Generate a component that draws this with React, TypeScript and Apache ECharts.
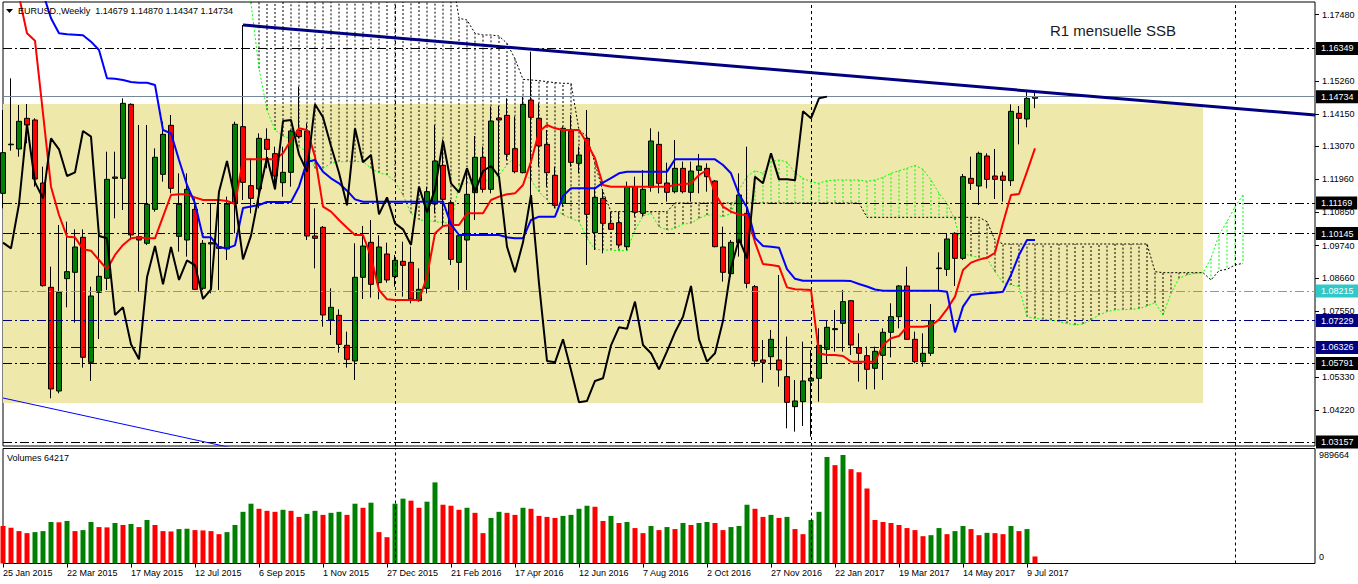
import React, { useEffect, useRef } from 'react';
import * as echarts from 'echarts';

const TICK_LABELS = ['25 Jan 2015', '22 Mar 2015', '17 May 2015', '12 Jul 2015', '6 Sep 2015', '1 Nov 2015', '27 Dec 2015', '21 Feb 2016', '17 Apr 2016', '12 Jun 2016', '7 Aug 2016', '2 Oct 2016', '27 Nov 2016', '22 Jan 2017', '19 Mar 2017', '14 May 2017', '9 Jul 2017'];
const N_SLOTS = 165;
const TICK_EVERY = 8;

const OPEN = [1.11492, 1.13120, 1.12979, 1.14007, 1.13951, 1.11839, 1.08342, 1.04867, 1.08633, 1.08845, 1.10018, 1.05828, 1.08174, 1.08644, 1.11995, 1.11995, 1.14476, 1.10040, 1.09817, 1.10956, 1.12129, 1.13772, 1.10051, 1.09928, 1.10956, 1.08309, 1.09795, 1.09705, 1.09627, 1.11157, 1.13728, 1.11750, 1.11638, 1.13303, 1.12822, 1.11850, 1.12196, 1.13604, 1.13582, 1.10062, 1.10353, 1.07247, 1.07403, 1.06398, 1.05873, 1.08677, 1.09850, 1.08498, 1.09459, 1.08700, 1.09213, 1.09180, 1.07895, 1.08309, 1.11135, 1.12431, 1.11180, 1.09180, 1.09928, 1.11515, 1.12700, 1.11627, 1.14018, 1.14107, 1.12990, 1.12185, 1.14621, 1.14007, 1.13135, 1.12096, 1.11157, 1.13582, 1.12498, 1.13336, 1.10174, 1.11325, 1.10487, 1.10509, 1.09705, 1.11716, 1.10822, 1.11694, 1.13135, 1.11839, 1.11548, 1.12330, 1.11526, 1.12263, 1.12330, 1.11906, 1.09694, 1.08800, 1.09839, 1.10822, 1.08365, 1.05906, 1.06018, 1.05906, 1.05348, 1.04342, 1.04509, 1.05203, 1.05292, 1.06264, 1.06923, 1.07135, 1.07895, 1.06320, 1.06051, 1.05627, 1.06063, 1.06834, 1.07358, 1.08387, 1.06599, 1.05851, 1.06130, 1.08968, 1.08945, 1.10152, 1.09314, 1.11995, 1.11738, 1.12744, 1.12073, 1.12073, 1.11917, 1.14174, 1.13984, 1.14679];
const HIGH = [1.14286, 1.15347, 1.14453, 1.14487, 1.14007, 1.12386, 1.09035, 1.10431, 1.10543, 1.10286, 1.10286, 1.08365, 1.10286, 1.12889, 1.12889, 1.14677, 1.14509, 1.13783, 1.13783, 1.13001, 1.13895, 1.14118, 1.12163, 1.12163, 1.11325, 1.09928, 1.11157, 1.11213, 1.11381, 1.13895, 1.17135, 1.12666, 1.13504, 1.13672, 1.13057, 1.13057, 1.13616, 1.15068, 1.13839, 1.10990, 1.10398, 1.08309, 1.07604, 1.06856, 1.09817, 1.10398, 1.10599, 1.10085, 1.09839, 1.09426, 1.09873, 1.09705, 1.08979, 1.11716, 1.13783, 1.13303, 1.11269, 1.10152, 1.12330, 1.13414, 1.13057, 1.14398, 1.14420, 1.14677, 1.14063, 1.14733, 1.16241, 1.14509, 1.13616, 1.12386, 1.13728, 1.14118, 1.13057, 1.14286, 1.11716, 1.11604, 1.10878, 1.10878, 1.11884, 1.12051, 1.12274, 1.13672, 1.13560, 1.12521, 1.13280, 1.12554, 1.12554, 1.12811, 1.12498, 1.11940, 1.10375, 1.09928, 1.12163, 1.13057, 1.08420, 1.06577, 1.06912, 1.08755, 1.06689, 1.05236, 1.06521, 1.06241, 1.06968, 1.07225, 1.07582, 1.08253, 1.07917, 1.06800, 1.06353, 1.06353, 1.06968, 1.07806, 1.08420, 1.09035, 1.06856, 1.06800, 1.07783, 1.09515, 1.10152, 1.10186, 1.12141, 1.12722, 1.12889, 1.12833, 1.12979, 1.12219, 1.14476, 1.14420, 1.14900, 1.14870];
const LOW = [1.10990, 1.12923, 1.12722, 1.13169, 1.11716, 1.08365, 1.04622, 1.04789, 1.07671, 1.07157, 1.05650, 1.05203, 1.06610, 1.08253, 1.10655, 1.10934, 1.09928, 1.08197, 1.09761, 1.10878, 1.11884, 1.11492, 1.09537, 1.09370, 1.08253, 1.08253, 1.08141, 1.08253, 1.09258, 1.10152, 1.11269, 1.10822, 1.10990, 1.12330, 1.11627, 1.11381, 1.11716, 1.13336, 1.09928, 1.08979, 1.07023, 1.06744, 1.06152, 1.05650, 1.05236, 1.07951, 1.07995, 1.07940, 1.08498, 1.08365, 1.08029, 1.07806, 1.07862, 1.08141, 1.10822, 1.10375, 1.09091, 1.08253, 1.08253, 1.10599, 1.11515, 1.11492, 1.12073, 1.12610, 1.12163, 1.12163, 1.11157, 1.12386, 1.11716, 1.10990, 1.11046, 1.12386, 1.12163, 1.09091, 1.09593, 1.09481, 1.10264, 1.09649, 1.09593, 1.10711, 1.10711, 1.11548, 1.11492, 1.11213, 1.11492, 1.11492, 1.11213, 1.11492, 1.11548, 1.09683, 1.08532, 1.08700, 1.09370, 1.08309, 1.05683, 1.05147, 1.05571, 1.05013, 1.03616, 1.03504, 1.03694, 1.03336, 1.04509, 1.05794, 1.06186, 1.06186, 1.06074, 1.05180, 1.04923, 1.04923, 1.05236, 1.05996, 1.06968, 1.06577, 1.05794, 1.05683, 1.06040, 1.08197, 1.08722, 1.08387, 1.09258, 1.11604, 1.11101, 1.11660, 1.11302, 1.11213, 1.11738, 1.13135, 1.13705, 1.14347];
const CLOSE = [1.12856, 1.13140, 1.13906, 1.13783, 1.11973, 1.08398, 1.04935, 1.08174, 1.08867, 1.09694, 1.05996, 1.08051, 1.08711, 1.11961, 1.12040, 1.14509, 1.10096, 1.09928, 1.11124, 1.12700, 1.13470, 1.11660, 1.11124, 1.11627, 1.08275, 1.09817, 1.09839, 1.09649, 1.11135, 1.13806, 1.11861, 1.11325, 1.13336, 1.12968, 1.12073, 1.12196, 1.13582, 1.13392, 1.10062, 1.09984, 1.07414, 1.07671, 1.06431, 1.05928, 1.08677, 1.09727, 1.08442, 1.09694, 1.08588, 1.09247, 1.09079, 1.07951, 1.08275, 1.11548, 1.12577, 1.11291, 1.09280, 1.10074, 1.11459, 1.12700, 1.11627, 1.13917, 1.13951, 1.12800, 1.12219, 1.14476, 1.14040, 1.13080, 1.12185, 1.11090, 1.13672, 1.12532, 1.12778, 1.10789, 1.11358, 1.10487, 1.10286, 1.09761, 1.11716, 1.10856, 1.11627, 1.13247, 1.11828, 1.11526, 1.12330, 1.11548, 1.12241, 1.12409, 1.12051, 1.09705, 1.08845, 1.09850, 1.11437, 1.08476, 1.05873, 1.05828, 1.06599, 1.05571, 1.04487, 1.04532, 1.05203, 1.05292, 1.06398, 1.07001, 1.06957, 1.07862, 1.06409, 1.06130, 1.05593, 1.06197, 1.06834, 1.07358, 1.08387, 1.06599, 1.05851, 1.06130, 1.07225, 1.08990, 1.09962, 1.09314, 1.12051, 1.11828, 1.12833, 1.11961, 1.11961, 1.11928, 1.14241, 1.14007, 1.14677, 1.14734];

const VOLUME = [341800, 326300, 295500, 276900, 286200, 295500, 378800, 375700, 388000, 295500, 304700, 378800, 332500, 329400, 369500, 351000, 360300, 332500, 397300, 351000, 295500, 292400, 314000, 317100, 304700, 301600, 295500, 267700, 286200, 351000, 471300, 545400, 499100, 480600, 471300, 489900, 480600, 425000, 452800, 480600, 443600, 462100, 471300, 443600, 545400, 508400, 554600, 286200, 239900, 545400, 591600, 573200, 508400, 563900, 739800, 536100, 526900, 489900, 508400, 462100, 276900, 415800, 471300, 462100, 443600, 508400, 499100, 434300, 425000, 415800, 434300, 443600, 499100, 526900, 517600, 388000, 434300, 369500, 378800, 323200, 276900, 341800, 304700, 332500, 314000, 369500, 351000, 369500, 378800, 369500, 304700, 332500, 341800, 536100, 499100, 425000, 443600, 415800, 425000, 314000, 267700, 397300, 471300, 971200, 897100, 989664, 860100, 832400, 684200, 397300, 378800, 369500, 351000, 323200, 304700, 249200, 258400, 323200, 267700, 295500, 341800, 314000, 258400, 280000, 276900, 267700, 341800, 295500, 314000, 64217];

const TENKAN = [1.1880, 1.1850, 1.1810, 1.16856, 1.16610, 1.14174, 1.11716, 1.10766, 1.10040, 1.10018, 1.09616, 1.09571, 1.09258, 1.08945, 1.09426, 1.09761, 1.09984, 1.10018, 1.09984, 1.09984, 1.10711, 1.11437, 1.11459, 1.11459, 1.11358, 1.11269, 1.11269, 1.11269, 1.11236, 1.11135, 1.12632, 1.12632, 1.12632, 1.12632, 1.12632, 1.12834, 1.13280, 1.13672, 1.13616, 1.12722, 1.11046, 1.10878, 1.10599, 1.10342, 1.10096, 1.10096, 1.09370, 1.08253, 1.07940, 1.07917, 1.07917, 1.07917, 1.07917, 1.08700, 1.10152, 1.10398, 1.10431, 1.10431, 1.10822, 1.10822, 1.10822, 1.11269, 1.11381, 1.11459, 1.11492, 1.11772, 1.12554, 1.13560, 1.13783, 1.13672, 1.13616, 1.13616, 1.13616, 1.13169, 1.12666, 1.11772, 1.11716, 1.11716, 1.11716, 1.11716, 1.11716, 1.11716, 1.11716, 1.11716, 1.11772, 1.11800, 1.11828, 1.12107, 1.12275, 1.11492, 1.11046, 1.10878, 1.10783, 1.10766, 1.09850, 1.09120, 1.09090, 1.09046, 1.08340, 1.08280, 1.08265, 1.08253, 1.06130, 1.06074, 1.06074, 1.06040, 1.05851, 1.05851, 1.05851, 1.05851, 1.06409, 1.06633, 1.06711, 1.07023, 1.07023, 1.07023, 1.07060, 1.07260, 1.07610, 1.08029, 1.08923, 1.09170, 1.09270, 1.09330, 1.09500, 1.10500, 1.11436, 1.11470, 1.12220, 1.13001];
const KIJUN = [1.1900, 1.1900, 1.1890, 1.1870, 1.1850, 1.1820, 1.17359, 1.16856, 1.16822, 1.16811, 1.16789, 1.16576, 1.16297, 1.15347, 1.15336, 1.15291, 1.15224, 1.15202, 1.15202, 1.15124, 1.13616, 1.13504, 1.12610, 1.11772, 1.11157, 1.10018, 1.10018, 1.09683, 1.09649, 1.09750, 1.11000, 1.11050, 1.11100, 1.11200, 1.11200, 1.11200, 1.11200, 1.11716, 1.12554, 1.12610, 1.12219, 1.11995, 1.11828, 1.11582, 1.11291, 1.11213, 1.11213, 1.11213, 1.11213, 1.11213, 1.11213, 1.11213, 1.11213, 1.11213, 1.11213, 1.11213, 1.10450, 1.10096, 1.10096, 1.10096, 1.10096, 1.10096, 1.10096, 1.10018, 1.09984, 1.09984, 1.10600, 1.10711, 1.10711, 1.10711, 1.11400, 1.11660, 1.11660, 1.11660, 1.11660, 1.11850, 1.12000, 1.12164, 1.12219, 1.12219, 1.12219, 1.12219, 1.12219, 1.12219, 1.12632, 1.12632, 1.12632, 1.12632, 1.12632, 1.12632, 1.12442, 1.12164, 1.11460, 1.11020, 1.10000, 1.09727, 1.09705, 1.09670, 1.08950, 1.08627, 1.08565, 1.08565, 1.08565, 1.08565, 1.08565, 1.08565, 1.08550, 1.08453, 1.08370, 1.08270, 1.08230, 1.08230, 1.08230, 1.08230, 1.08230, 1.08230, 1.08230, 1.08230, 1.08197, 1.06830, 1.07694, 1.08085, 1.08118, 1.08140, 1.08160, 1.08197, 1.08755, 1.09426, 1.09928, 1.09928];

const CHIKOU_SHIFT = 26;
const SENKOU_START = 30;
const SENKOU_A = [1.1800, 1.17861, 1.15683, 1.14286, 1.13616, 1.13414, 1.13336, 1.13057, 1.12889, 1.12331, 1.12331, 1.12498, 1.12554, 1.12554, 1.12554, 1.12554, 1.12331, 1.12185, 1.12107, 1.11884, 1.11436, 1.10822, 1.10599, 1.10576, 1.10543, 1.10509, 1.10487, 1.11772, 1.11828, 1.11850, 1.11884, 1.11995, 1.12107, 1.12442, 1.12722, 1.12219, 1.11940, 1.11548, 1.11269, 1.10990, 1.10766, 1.10655, 1.10543, 1.09984, 1.09616, 1.09593, 1.09593, 1.09571, 1.09571, 1.10264, 1.10733, 1.10822, 1.10375, 1.10264, 1.10320, 1.10465, 1.10487, 1.10655, 1.10766, 1.10766, 1.10711, 1.10822, 1.11604, 1.12051, 1.12252, 1.12163, 1.12554, 1.12610, 1.12543, 1.12185, 1.11995, 1.11883, 1.11828, 1.11917, 1.11939, 1.11939, 1.11939, 1.11939, 1.11895, 1.11939, 1.12029, 1.12163, 1.12252, 1.12330, 1.12431, 1.12297, 1.11939, 1.11492, 1.11157, 1.10599, 1.09481, 1.09392, 1.09347, 1.09314, 1.08867, 1.08498, 1.08420, 1.08364, 1.07358, 1.07302, 1.07269, 1.07247, 1.07191, 1.07135, 1.07079, 1.07113, 1.07247, 1.07414, 1.07526, 1.07582, 1.07593, 1.07604, 1.07626, 1.07716, 1.07828, 1.07414, 1.08140, 1.08643, 1.08755, 1.08811, 1.08833, 1.09314, 1.10096, 1.10543, 1.11045, 1.11436];
const SENKOU_B = [1.1900, 1.1900, 1.1900, 1.1900, 1.1900, 1.1900, 1.1900, 1.1900, 1.1900, 1.1900, 1.1900, 1.1900, 1.1900, 1.1900, 1.1900, 1.1900, 1.1900, 1.1900, 1.1900, 1.1900, 1.1900, 1.1900, 1.1900, 1.1900, 1.1900, 1.1900, 1.1900, 1.17359, 1.17303, 1.16856, 1.16800, 1.16800, 1.16766, 1.16521, 1.16000, 1.15314, 1.15292, 1.15270, 1.15236, 1.15202, 1.15180, 1.15180, 1.13616, 1.13392, 1.12500, 1.11550, 1.10880, 1.10880, 1.10880, 1.10880, 1.10880, 1.10880, 1.10880, 1.10880, 1.11169, 1.11169, 1.11169, 1.11169, 1.11169, 1.11169, 1.11169, 1.11169, 1.11169, 1.11169, 1.11169, 1.11169, 1.11169, 1.11169, 1.11169, 1.11169, 1.11169, 1.11169, 1.11169, 1.11169, 1.11169, 1.11169, 1.11169, 1.11169, 1.10688, 1.10688, 1.10688, 1.10688, 1.10688, 1.10688, 1.10688, 1.10688, 1.10688, 1.10688, 1.10688, 1.10688, 1.10688, 1.10688, 1.10688, 1.10543, 1.09928, 1.09794, 1.09794, 1.09794, 1.09794, 1.09794, 1.09794, 1.09794, 1.09794, 1.09794, 1.09794, 1.09794, 1.09794, 1.09794, 1.09794, 1.09794, 1.09794, 1.09794, 1.09794, 1.09794, 1.08867, 1.08833, 1.08833, 1.08833, 1.08833, 1.08833, 1.08833, 1.08587, 1.08900, 1.08945, 1.09091, 1.09146];

const PRICE_TICKS = [1.1748, 1.1526, 1.1415, 1.1307, 1.1196, 1.1085, 1.0974, 1.0866, 1.0755, 1.0533, 1.0422];
const PRICE_MIN = 1.03023;
const PRICE_MAX = 1.17906;
const VOLUME_TOP_LABEL = 989664;
const VOLUME_AXIS_MAX = 1048950;

const LEVELS_BLACK = [1.16349, 1.11169, 1.10145, 1.05791, 1.03157];
const LEVELS_CYAN = [1.08215];
const LEVELS_NAVY = [1.07229, 1.06326];
const BID = 1.14734;

const TRENDLINE = [[30, 1.17135], [164, 1.14118]];
const SUPPORT_LINE = [[0, 1.04632], [30, 1.02880]];
const BOX_FROM = 0;
const BOX_TO = 150;
const BOX_TOP = 1.14487;
const BOX_BOTTOM = 1.04464;
const YEAR_SEPARATORS = [49, 101, 154];

const SYMBOL = 'EURUSD.,Weekly';
const NOTE = 'R1 mensuelle SSB';

const FONT = '"Liberation Sans", Arial, sans-serif';
const GREEN = '#008000';
const RED = '#FF0000';
const LIME = '#00FF00';
const DASHDOT = [9, 3, 2, 3];

function buildOption() {
  const cats = Array.from({ length: N_SLOTS }, (_, i) => String(i));
  const isTick = (i: number) => i % TICK_EVERY === 0 && i / TICK_EVERY < TICK_LABELS.length;
  const fmt = (v: number) => v.toFixed(5);

  const tagLabel = (v: number, bg: string) => ({
    show: true, position: 'end', distance: 1, formatter: () => fmt(v),
    backgroundColor: bg, color: '#fff', padding: [1, 5, 0, 5], lineHeight: 12,
    fontSize: 9, fontFamily: FONT,
  });

  const levelLine = (v: number, lineColor: string, bg: string) => ({
    yAxis: v,
    lineStyle: { color: lineColor, type: DASHDOT, width: 1 },
    label: tagLabel(v, bg),
  });

  const markLineData = [
    ...LEVELS_BLACK.map((v) => levelLine(v, '#000', '#000')),
    ...LEVELS_CYAN.map((v) => levelLine(v, '#30C0C0', '#30C8C8')),
    ...LEVELS_NAVY.map((v) => levelLine(v, '#000080', '#000080')),
    { yAxis: BID, lineStyle: { color: '#778899', type: 'solid', width: 1 }, label: tagLabel(BID, '#000') },
  ];

  const sepLines = YEAR_SEPARATORS.map((i) => ({ xAxis: cats[i] }));

  const candleData = OPEN.map((o, i) => [o, CLOSE[i], LOW[i], HIGH[i]]);
  const volumeData = VOLUME.map((v, i) => ({
    value: v,
    itemStyle: { color: i > 0 && v > VOLUME[i - 1] ? GREEN : RED },
  }));
  const chikou = CLOSE.slice(CHIKOU_SHIFT);
  const spanA = SENKOU_A.map((v, k) => [SENKOU_START + k, v]);
  const spanB = SENKOU_B.map((v, k) => [SENKOU_START + k, v]);
  const cloud = SENKOU_A.map((v, k) => [SENKOU_START + k, v, SENKOU_B[k]]);

  const last = OPEN.length - 1;
  const header = `${SYMBOL}  ${fmt(OPEN[last])} ${fmt(HIGH[last])} ${fmt(LOW[last])} ${fmt(CLOSE[last])}`;

  return {
    animation: false,
    backgroundColor: '#fff',
    textStyle: { fontFamily: FONT },
    grid: [
      { left: 3, right: 43, top: 2, height: 444, show: true, borderColor: '#000', borderWidth: 1, backgroundColor: 'transparent' },
      { left: 3, right: 43, top: 448.5, height: 115, show: true, borderColor: '#000', borderWidth: 1, backgroundColor: 'transparent' },
    ],
    xAxis: [
      {
        type: 'category', gridIndex: 0, data: cats, boundaryGap: false,
        axisLine: { show: false }, axisTick: { show: false }, axisLabel: { show: false }, splitLine: { show: false },
      },
      {
        type: 'category', gridIndex: 1, data: cats, boundaryGap: false,
        axisLine: { show: false },
        axisTick: { show: true, interval: (i: number) => isTick(i), length: 4, lineStyle: { color: '#000' } },
        axisLabel: {
          interval: (i: number) => isTick(i),
          formatter: (v: string) => TICK_LABELS[Number(v) / TICK_EVERY] || '',
          align: 'left', margin: 5, fontSize: 9, color: '#000', fontFamily: FONT,
        },
        splitLine: { show: false },
      },
    ],
    yAxis: [
      {
        type: 'value', gridIndex: 0, position: 'right', min: PRICE_MIN, max: PRICE_MAX,
        splitLine: { show: false }, axisLine: { show: false },
        axisTick: { show: true, customValues: PRICE_TICKS, length: 4, lineStyle: { color: '#000' } },
        axisLabel: { customValues: PRICE_TICKS, formatter: (v: number) => fmt(v), margin: 7, fontSize: 9, color: '#000', fontFamily: FONT },
      },
      {
        type: 'value', gridIndex: 1, position: 'right', min: 0, max: VOLUME_AXIS_MAX,
        splitLine: { show: false }, axisLine: { show: false }, axisTick: { show: false },
        axisLabel: {
          customValues: [0, VOLUME_TOP_LABEL],
          formatter: (v: number) => (v === 0 ? '{z|0}' : String(v)),
          rich: { z: { padding: [0, 0, 14, 0], fontSize: 9, color: '#000', fontFamily: FONT } },
          margin: 4, fontSize: 9, color: '#000', fontFamily: FONT,
        },
      },
    ],
    graphic: [
      { type: 'polygon', shape: { points: [[6, 9], [13, 9], [9.5, 13]] }, style: { fill: '#000' }, z: 100 },
      { type: 'text', left: 18, top: 6, style: { text: header, fontSize: 9, fill: '#000', fontFamily: FONT }, z: 100 },
      { type: 'text', left: 7, top: 453, style: { text: `Volumes ${VOLUME[last]}`, fontSize: 9, fill: '#000', fontFamily: FONT }, z: 100 },
      { type: 'text', left: 1050, top: 23, style: { text: NOTE, fontSize: 15, fill: '#1a1a1a', fontFamily: FONT }, z: 100 },
    ],
    series: [
      {
        name: 'box', type: 'line', xAxisIndex: 0, yAxisIndex: 0, data: [], z: 1, silent: true,
        markArea: {
          silent: true, itemStyle: { color: '#EEE8AA' },
          data: [[{ xAxis: cats[BOX_FROM], yAxis: BOX_TOP }, { xAxis: cats[BOX_TO], yAxis: BOX_BOTTOM }]],
        },
      },
      {
        name: 'levels', type: 'line', xAxisIndex: 0, yAxisIndex: 0, data: [], z: 2, silent: true,
        markLine: { silent: true, precision: 5, symbol: ['none', 'none'], data: markLineData },
      },
      {
        name: 'separators', type: 'line', xAxisIndex: 0, yAxisIndex: 0, data: [], z: 2, silent: true,
        markLine: { silent: true, symbol: ['none', 'none'], label: { show: false }, lineStyle: { color: '#000', type: [3, 3], width: 1 }, data: sepLines },
      },
      {
        name: 'separatorsVol', type: 'line', xAxisIndex: 1, yAxisIndex: 1, data: [], z: 2, silent: true,
        markLine: { silent: true, symbol: ['none', 'none'], label: { show: false }, lineStyle: { color: '#000', type: [3, 3], width: 1 }, data: sepLines },
      },
      {
        name: 'cloud', type: 'custom', xAxisIndex: 0, yAxisIndex: 0, z: 2, silent: true,
        data: cloud,
        encode: { x: 0, y: [1, 2] },
        renderItem: (params: any, api: any) => {
          const x = api.value(0);
          const a = api.value(1);
          const b = api.value(2);
          const pa = api.coord([x, a]);
          const pb = api.coord([x, b]);
          const cs = params.coordSys;
          const cl = (y: number) => Math.max(cs.y, Math.min(cs.y + cs.height, y));
          return {
            type: 'line',
            shape: { x1: pa[0], y1: cl(pa[1]), x2: pb[0], y2: cl(pb[1]) },
            style: { stroke: a >= b ? LIME : '#000', lineWidth: 1, lineDash: [2, 2] },
          };
        },
      },
      {
        name: 'Senkou A', type: 'line', xAxisIndex: 0, yAxisIndex: 0, data: spanA, z: 3, silent: true,
        showSymbol: false, symbol: 'none', lineStyle: { color: LIME, width: 1, type: [2, 2] },
      },
      {
        name: 'Senkou B', type: 'line', xAxisIndex: 0, yAxisIndex: 0, data: spanB, z: 3, silent: true,
        showSymbol: false, symbol: 'none', lineStyle: { color: '#000', width: 1, type: [2, 2] },
      },
      {
        name: 'EURUSD', type: 'candlestick', xAxisIndex: 0, yAxisIndex: 0, data: candleData, barWidth: 5, z: 4,
        itemStyle: { color: GREEN, color0: RED, borderColor: '#000', borderColor0: '#000', borderWidth: 1 },
      },
      {
        name: 'Tenkan', type: 'line', xAxisIndex: 0, yAxisIndex: 0, data: TENKAN, z: 5, silent: true,
        showSymbol: false, symbol: 'none', lineStyle: { color: RED, width: 2 },
      },
      {
        name: 'Kijun', type: 'line', xAxisIndex: 0, yAxisIndex: 0, data: KIJUN, z: 5, silent: true,
        showSymbol: false, symbol: 'none', lineStyle: { color: '#0000FF', width: 2 },
      },
      {
        name: 'Chikou', type: 'line', xAxisIndex: 0, yAxisIndex: 0, data: chikou, z: 5, silent: true,
        showSymbol: false, symbol: 'none', lineStyle: { color: '#000', width: 2 },
      },
      {
        name: 'Trendline', type: 'line', xAxisIndex: 0, yAxisIndex: 0, data: TRENDLINE, z: 6, silent: true,
        showSymbol: false, symbol: 'none', lineStyle: { color: '#000080', width: 3 },
      },
      {
        name: 'Support', type: 'line', xAxisIndex: 0, yAxisIndex: 0, data: SUPPORT_LINE, z: 6, silent: true,
        showSymbol: false, symbol: 'none', lineStyle: { color: '#0000FF', width: 1 },
      },
      {
        name: 'Volumes', type: 'bar', xAxisIndex: 1, yAxisIndex: 1, data: volumeData, barWidth: 5, z: 4,
      },
    ],
  };
}

export default function App() {
  const ref = useRef<HTMLDivElement>(null);
  useEffect(() => {
    const el = ref.current;
    if (!el) return undefined;
    const chart = echarts.init(el, null, { renderer: 'svg' });
    chart.setOption(buildOption() as any);
    return () => chart.dispose();
  }, []);
  return (
    <div
      ref={ref}
      style={{ position: 'fixed', left: 0, top: 0, width: 1358, height: 584, background: '#fff' }}
    />
  );
}
